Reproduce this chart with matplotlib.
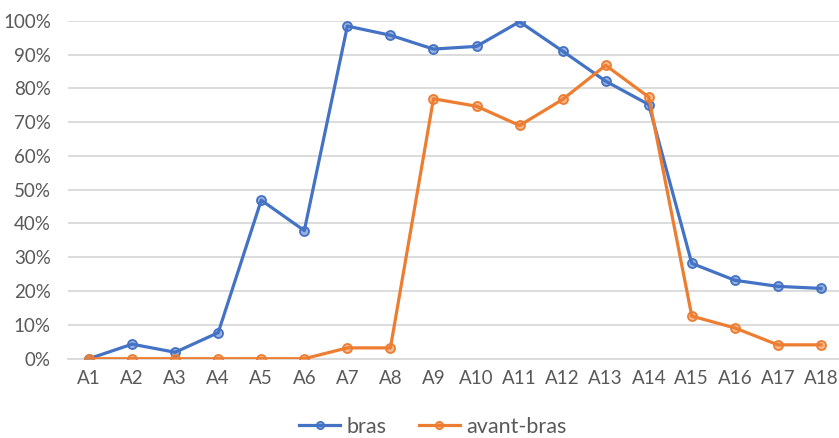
import matplotlib
matplotlib.use("Agg")
import matplotlib.pyplot as plt
from matplotlib.ticker import PercentFormatter

categories = [f"A{i}" for i in range(1, 19)]
bras = [0.0, 0.043, 0.019, 0.077, 0.469, 0.379, 0.984, 0.957, 0.916, 0.924,
        0.997, 0.910, 0.821, 0.752, 0.282, 0.232, 0.214, 0.208]
avant_bras = [0.0, 0.0, 0.0, 0.0, 0.0, 0.0, 0.032, 0.032, 0.769, 0.747,
              0.690, 0.767, 0.868, 0.774, 0.126, 0.091, 0.041, 0.041]

BLUE = "#4472C4"
ORANGE = "#ED7D31"
GRID = "#D9D9D9"
TXT = "#595959"

plt.rcParams["font.family"] = ["Lato", "DejaVu Sans"]

fig = plt.figure(figsize=(8.39, 4.38), dpi=100)
ax = fig.add_axes([67.5 / 839, 79.3 / 438, 775 / 839, 338 / 438])

x = list(range(len(categories)))
for vals, col, lab in ((bras, BLUE, "bras"), (avant_bras, ORANGE, "avant-bras")):
    ax.plot(x, vals, color=col, lw=2.3, marker="o", ms=6.5,
            mfc=matplotlib.colors.to_rgba(col, 0.55), mec=col, mew=1.3,
            label=lab, zorder=3)

ax.set_xlim(-0.5, len(categories) - 0.5)
ax.set_ylim(0, 1)
ax.set_yticks([i / 10 for i in range(11)])
ax.yaxis.set_major_formatter(PercentFormatter(1.0, decimals=0))
ax.set_xticks(x)
ax.set_xticklabels(categories)
ax.grid(True, axis="y", color=GRID, lw=1.3)
ax.set_axisbelow(True)
for s in ("top", "right", "left"):
    ax.spines[s].set_visible(False)
ax.spines["bottom"].set_color(GRID)
ax.spines["bottom"].set_linewidth(1.3)
ax.tick_params(axis="both", length=0, labelsize=13.5, colors=TXT)
ax.tick_params(axis="y", pad=12)
ax.tick_params(axis="x", pad=8)

leg = fig.legend(loc="center", bbox_to_anchor=(433 / 839, 1 - 427 / 438), ncol=2,
                 frameon=False, fontsize=15.5, labelcolor=TXT, handlelength=1.9,
                 columnspacing=1.5, handletextpad=0.3, markerscale=0.8)

fig.savefig("out.png", dpi=100)
